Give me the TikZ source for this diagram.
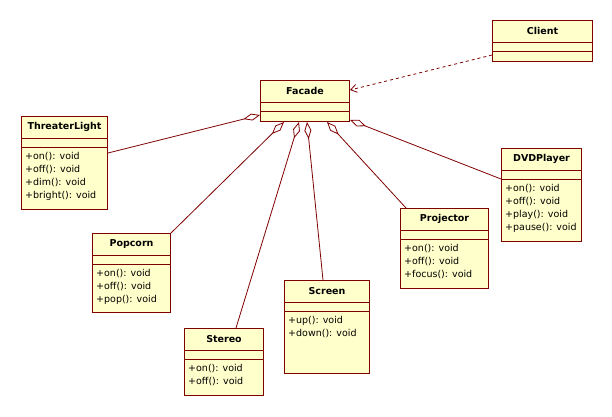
\documentclass[tikz,border=0pt]{standalone}
\usepackage{fontspec}
\setmainfont{DejaVu Sans}
\usetikzlibrary{arrows.meta}
\definecolor{umlred}{RGB}{128,0,0}
\definecolor{umlfill}{RGB}{255,255,204}
\tikzset{>=latex}
\tikzset{
  umlbox/.style={draw=umlred, line width=1pt, fill=umlfill, inner sep=0pt},
  umlsep/.style={draw=umlred, line width=1pt},
  umlname/.style={font=\fontsize{9.5}{11}\selectfont\bfseries, inner sep=0pt},
  umlops/.style={font=\fontsize{9.5}{13}\selectfont, align=left, inner xsep=4pt, inner ysep=5pt},
  aggr/.style={draw=umlred, line width=0.8pt, -{Diamond[open,length=17pt,width=7pt]}},
  depend/.style={draw=umlred, line width=0.8pt, dashed, -{Straight Barb[length=6pt,width=8pt]}}
}
% class box: node name, left, top, width, height, class name, operations
\newcommand{\umlclass}[7]{%
  \node[umlbox, minimum width=#4pt, minimum height=#5pt, anchor=north west] (#1) at (#2,#3) {};
  \draw[umlsep] ([yshift=-22pt]#1.north west) -- ([yshift=-22pt]#1.north east);
  \draw[umlsep] ([yshift=-31pt]#1.north west) -- ([yshift=-31pt]#1.north east);
  \node[umlname] (#1-name) at ([yshift=-11pt]#1.north) {#6};
  \node[umlops, anchor=north west] (#1-ops) at ([yshift=-31pt]#1.north west) {#7};
}

\begin{document}
\begin{tikzpicture}[x=1pt, y=-1pt]
  \useasboundingbox[fill=white] (0,0) rectangle (612,416);
  % classes
  \umlclass{client}{492}{20}{100}{41}{Client}{}
  \umlclass{facade}{260}{80}{89}{41}{Facade}{}
  \umlclass{light}{21}{116}{86}{93}{ThreaterLight}{+on(): void\\+off(): void\\+dim(): void\\+bright(): void}
  \umlclass{popcorn}{92}{233}{78}{79}{Popcorn}{+on(): void\\+off(): void\\+pop(): void}
  \umlclass{stereo}{184}{328}{79}{67}{Stereo}{+on(): void\\+off(): void}
  \umlclass{screen}{284}{280}{85}{93}{Screen}{+up(): void\\+down(): void}
  \umlclass{projector}{400}{208}{88}{80}{Projector}{+on(): void\\+off(): void\\+focus(): void}
  \umlclass{dvd}{501}{148}{80}{93}{DVDPlayer}{+on(): void\\+off(): void\\+play(): void\\+pause(): void}
  % dependency
  \draw[depend] ([yshift=-35pt]client.north west) -- ([yshift=-10pt]facade.north east);
  % aggregations
  \draw[aggr] ([yshift=10pt]light.east) -- ([yshift=7pt]facade.south west);
  \draw[aggr] (popcorn.north east) -- ([xshift=24pt]facade.south west);
  \draw[aggr] ([xshift=12pt]stereo.north) -- ([xshift=39pt]facade.south west);
  \draw[aggr] ([xshift=-4pt]screen.north) -- ([xshift=47pt]facade.south west);
  \draw[aggr] ([xshift=6pt]projector.north west) -- ([xshift=67pt]facade.south west);
  \draw[aggr] ([yshift=-31pt]dvd.north west) -- ([yshift=2pt]facade.south east);
\end{tikzpicture}
\end{document}
